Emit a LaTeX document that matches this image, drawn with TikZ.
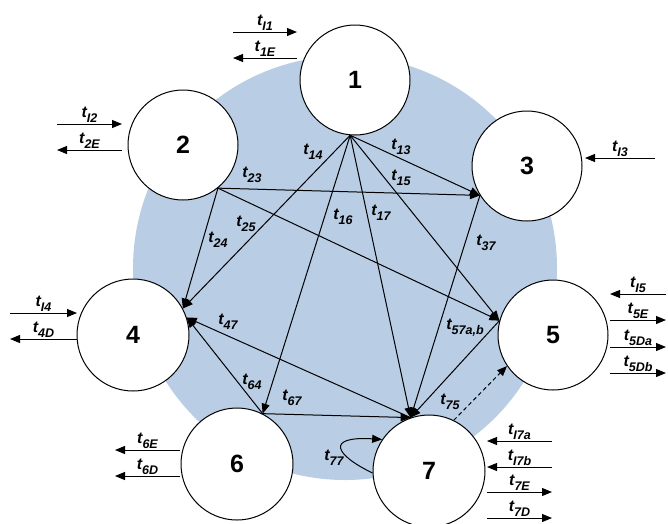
\documentclass[tikz,border=0pt]{standalone}
\usepackage{fontspec}
\setmainfont{Liberation Sans}
\usetikzlibrary{arrows.meta}
\definecolor{bgblue}{RGB}{185,205,228}
\newcommand{\trans}[1]{t\raisebox{-5pt}{\fontsize{12.5}{12.5}\selectfont #1}}

\begin{document}
\begin{tikzpicture}[x=1pt,y=-1pt,>={Triangle[length=10pt,width=8pt]},line width=1pt,
  state/.style={circle,draw,fill=white,minimum size=110pt,inner sep=0pt,
    font=\bfseries\fontsize{25}{25}\selectfont},
  lbl/.style={inner sep=0pt,font=\bfseries\itshape\fontsize{16}{16}\selectfont}]
  \useasboundingbox (0,0) rectangle (668,523);
  \fill[bgblue] (345,268) circle (212pt);
  % states
  \node[state] (n1) at (355,80) {1};
  \node[state] (n2) at (183,145) {2};
  \node[state] (n3) at (527,166) {3};
  \node[state,minimum size=112pt] (n4) at (133,335) {4};
  \node[state] (n5) at (553,335) {5};
  \node[state,minimum size=112pt] (n6) at (237,464) {6};
  \node[state,minimum size=112pt] (n7) at (429,471) {7};
  % transitions
  \foreach \a/\b in {n1.265/n3.212, n2.309/n3.212, n1.265/n5.165, n2.309/n5.165,
    n1.265/n4.28, n2.309/n4.28, n1.265/n6.63, n1.265/n7.109, n3.212/n7.109,
    n5.165/n7.109, n7.109/n4.18, n6.63/n4.18, n6.63/n7.109}
  {
    \draw[->] (\a) -- (\b);
  }
  \draw[->,dash pattern=on 4pt off 3pt] (n7.64) -- (n5.214);
  \draw[->] (n7.182) .. controls (335,455) and (325,436) .. (n7.146);
  \foreach \nm/\x/\y/\s in {l14/313/152/14, l13/401/147/13, l15/401/178/15,
    l23/252/175/23, l25/246/224/25, l24/218/240/24, l16/343/217/16,
    l17/381/213/17, l37/486/243/37, l57/465/328/{57a,b}, l47/228/322/47,
    l64/252/382/64, l67/292/398/67, l75/450/402/75, l77/334/458/77}
  {
    \node[lbl] (\nm) at (\x,\y) {\trans{\s}};
  }
  % in- and outflows
  \foreach \nm/\xa/\xb/\y/\s in {i1/233/297/32/I1, e1/297/233/58/1E,
    i2/57/122/124/I2, e2/122/57/150/2E, i3/655/585/158/I3,
    i4/10/77/313/I4, d4/77/10/339/4D,
    i5/666/610/294/I5, e5/610/666/320/5E, da5/610/666/347/5Da, db5/610/666/373/5Db,
    e6/180/115/450/6E, d6/180/115/476/6D,
    ia7/552/487/441/I7a, ib7/552/487/467/I7b, e7/487/552/492/7E, d7/487/552/518/7D}
  {
    \coordinate (\nm a) at (\xa,\y);
    \coordinate (\nm b) at (\xb,\y);
    \draw[->] (\nm a) -- (\nm b) node[lbl,midway,above=1pt] (\nm t) {\trans{\s}};
  }
\end{tikzpicture}
\end{document}
